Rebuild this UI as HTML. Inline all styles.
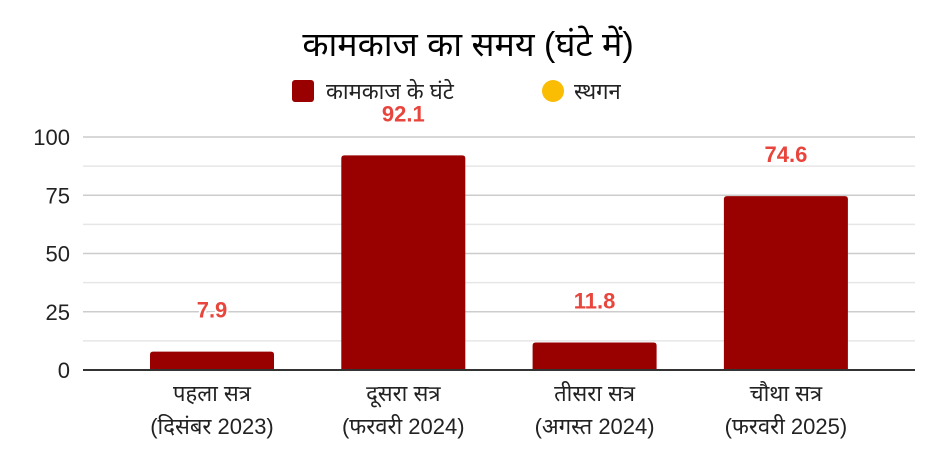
<!DOCTYPE html>
<html><head><meta charset="utf-8"><style>
body{margin:0;background:#fff;width:937px;height:463px;overflow:hidden}
svg text{font-family:"Liberation Sans","Noto Sans Devanagari","Lohit Devanagari",sans-serif}
</style></head><body>
<svg id="c" width="937" height="463">
<text x="468" y="56" text-anchor="middle" font-size="34" fill="#000">कामकाज का समय (घंटे में)</text>
<g>
<rect x="292" y="80" width="22" height="22" rx="3" fill="#990000"/>
<text x="326" y="99" font-size="22" fill="#222">कामकाज के घंटे</text>
<circle cx="553" cy="91" r="11" fill="#fbbc04"/>
<text x="574" y="99" font-size="22" fill="#222">स्थगन</text>
</g>
<g id="grid"></g><g id="bars"></g>
</svg>
<script>
const categories1=["पहला सत्र","दूसरा सत्र","तीसरा सत्र","चौथा सत्र"];
const categories2=["(दिसंबर 2023)","(फरवरी 2024)","(अगस्त 2024)","(फरवरी 2025)"];
const values=[7.9,92.1,11.8,74.6];
const valueLabels=["7.9","92.1","11.8","74.6"];
const ticks=[0,25,50,75,100];
const minorTicks=[12.5,37.5,62.5,87.5];
const NS="http://www.w3.org/2000/svg";
const x0=83,x1=915,y0=370,y100=137;
const y=v=>y0-(v/100)*(y0-y100);
const cx=i=>212+i*191.3;
const g=document.getElementById('grid'),b=document.getElementById('bars');
function mk(t,a,p){const e=document.createElementNS(NS,t);for(const k in a)e.setAttribute(k,a[k]);p.appendChild(e);return e;}
minorTicks.forEach(v=>{
const l=mk('line',{x1:x0,x2:x1,y1:y(v),y2:y(v),stroke:'#e6e6e6','stroke-width':1.5},g);


});
ticks.forEach(v=>{
if(v>0){const l=mk('line',{x1:x0,x2:x1,y1:y(v),y2:y(v),stroke:'#cccccc','stroke-width':1.5},g);

}
const t=mk('text',{x:70,y:y(v)+8,'text-anchor':'end','font-size':22,fill:'#222'},g);
t.textContent=v;


});
values.forEach((v,i)=>{
const top=y(v),w=124,l=cx(i)-w/2;
const p=mk('path',{d:`M${l},${y0}V${top+3}Q${l},${top} ${l+3},${top}H${l+w-3}Q${l+w},${top} ${l+w},${top+3}V${y0}Z`,fill:'#990000'},b);


const t=mk('text',{x:cx(i),y:top-34,'text-anchor':'middle','font-size':22,'font-weight':'bold',fill:'#e8453c',stroke:'#fff','stroke-width':4,'paint-order':'stroke'},b);
t.textContent=valueLabels[i];


const c1=mk('text',{x:cx(i),y:401,'text-anchor':'middle','font-size':22,fill:'#222'},b);
c1.textContent=categories1[i];


const c2=mk('text',{x:cx(i),y:434,'text-anchor':'middle','font-size':22,fill:'#222'},b);
c2.textContent=categories2[i];


});
const ax=mk('line',{x1:x0,x2:x1,y1:y0,y2:y0,stroke:'#333','stroke-width':2},b);


</script>
</body></html>
